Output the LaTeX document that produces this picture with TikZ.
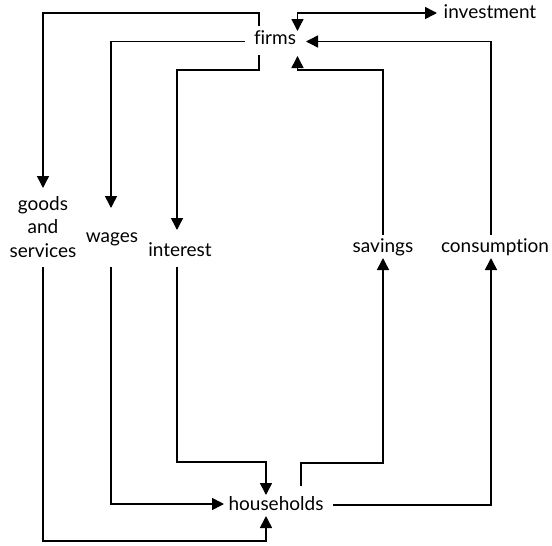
\documentclass[tikz,border=0pt]{standalone}
\usepackage{fontspec}
\setmainfont{Lato}[Ligatures=NoCommon]
\usetikzlibrary{arrows.meta}
\begin{document}
\begin{tikzpicture}[x=1pt,y=-1pt,
  lbl/.style={inner sep=0pt,anchor=base,font=\fontsize{19}{23.5}\selectfont},
  flow/.style={line width=1.5pt,-{Triangle[length=12pt,width=12pt]}},
  flow2/.style={line width=1.5pt,{Triangle[length=12pt,width=12pt]}-{Triangle[length=12pt,width=12pt]}}]
\useasboundingbox[fill=white] (0,0) rectangle (552,546);
% nodes
\node[lbl] (firms) at (275,45) {firms};
\node[lbl] (invest) at (490,18) {investment};
\node[lbl,align=center] (goods) at (43,257) {goods\\and\\services};
\node[lbl] (wages) at (112,242) {wages};
\node[lbl] (interest) at (180,256) {interest};
\node[lbl] (savings) at (383,252) {savings};
\node[lbl] (cons) at (495,252) {consumption};
\node[lbl] (house) at (276,510) {households};
% coordinates
\coordinate (fTL) at (259,26);
\coordinate (fL) at (245,41.5);
\coordinate (fBL) at (259,55);
\coordinate (fTR) at (297.5,31);
\coordinate (fR) at (306,41.5);
\coordinate (fBR) at (297.5,56);
\coordinate (invIn) at (437,13);
\coordinate (gIn) at (43,188);
\coordinate (gOut) at (43,267);
\coordinate (wIn) at (111,208);
\coordinate (wOut) at (111,267);
\coordinate (iIn) at (177,230);
\coordinate (iOut) at (177,267);
\coordinate (sOut) at (383,235);
\coordinate (sIn) at (383,258);
\coordinate (cOut) at (491,235);
\coordinate (cIn) at (491,258);
\coordinate (hT) at (266,495);
\coordinate (hB) at (266,516);
\coordinate (hL) at (224,504);
\coordinate (hTR) at (301,486);
\coordinate (hR) at (333,505);
% firms side
\draw[flow] (fTL) |- (43,13) -- (gIn);
\draw[flow] (fL) -| (wIn);
\draw[flow] (fBL) |- (177,70) -- (iIn);
\draw[flow2] (fTR) |- (invIn);
\draw[flow] (cOut) |- (fR);
\draw[flow] (sOut) |- (297.5,70) -- (fBR);
% households side
\draw[flow] (iOut) |- (266,462) -- (hT);
\draw[flow] (wOut) |- (hL);
\draw[flow] (gOut) |- (266,541) -- (hB);
\draw[flow] (hTR) |- (383,463) -- (sIn);
\draw[flow] (hR) -| (cIn);
\end{tikzpicture}
\end{document}
